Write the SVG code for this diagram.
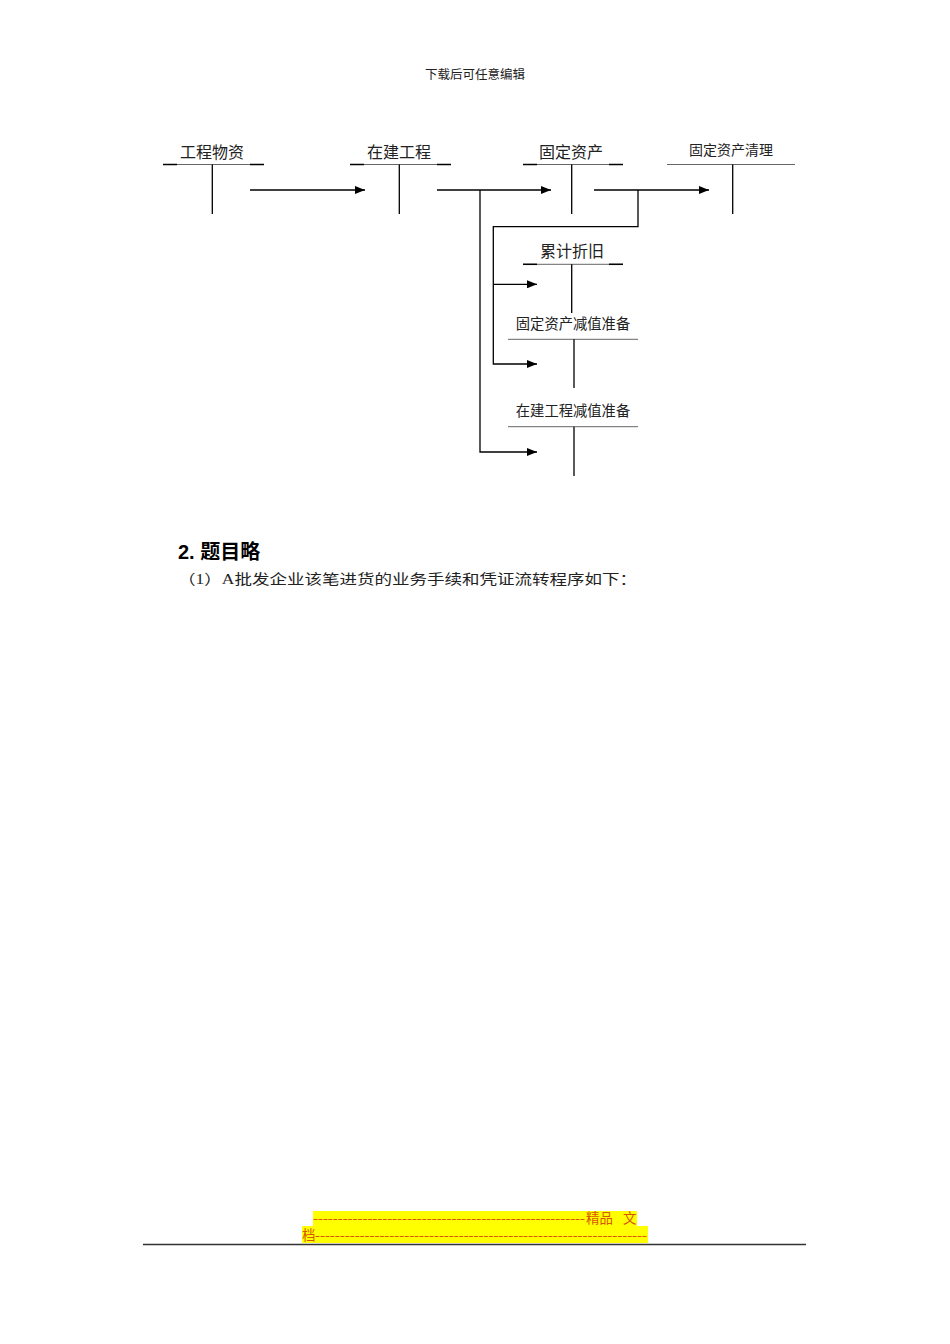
<svg xmlns="http://www.w3.org/2000/svg" width="950" height="1344" viewBox="0 0 950 1344">
<style>
.t{font-family:"Liberation Serif","Noto Sans CJK SC",serif;fill:#222}
.ln{stroke:#000;stroke-width:1.3;fill:none}
.ul{stroke:#666;stroke-width:1}
.ue{stroke:#000;stroke-width:1.5}
.ft{font-family:"Liberation Serif","Noto Sans CJK SC",serif;font-size:13.5px;fill:#d95500}
</style>
<defs>
<marker id="ah" markerWidth="10" markerHeight="8" refX="10" refY="4" orient="auto" markerUnits="userSpaceOnUse">
<path d="M0,0 L10,4 L0,8 Z" fill="#000"/>
</marker>
</defs>
<rect width="950" height="1344" fill="#fff"/>
<text class="t" x="475" y="79" font-size="12.5" text-anchor="middle">下载后可任意编辑</text>

<g id="gcwz">
<text class="t" x="212" y="158" font-size="16" text-anchor="middle">工程物资</text>
<line class="ul" x1="163" y1="164.5" x2="264" y2="164.5"/>
<line class="ue" x1="163" y1="164.5" x2="177" y2="164.5"/>
<line class="ue" x1="250" y1="164.5" x2="264" y2="164.5"/>
<line class="ln" x1="212.3" y1="164.5" x2="212.3" y2="214"/>
</g>
<g id="zjgc">
<text class="t" x="399" y="158" font-size="16" text-anchor="middle">在建工程</text>
<line class="ul" x1="350" y1="164.5" x2="451" y2="164.5"/>
<line class="ue" x1="350" y1="164.5" x2="364" y2="164.5"/>
<line class="ue" x1="437" y1="164.5" x2="451" y2="164.5"/>
<line class="ln" x1="399.3" y1="164.5" x2="399.3" y2="214"/>
</g>
<g id="gdzc">
<text class="t" x="571" y="158" font-size="16" text-anchor="middle">固定资产</text>
<line class="ul" x1="523" y1="164.5" x2="623" y2="164.5"/>
<line class="ue" x1="523" y1="164.5" x2="537" y2="164.5"/>
<line class="ue" x1="609" y1="164.5" x2="623" y2="164.5"/>
<line class="ln" x1="571.7" y1="164.5" x2="571.7" y2="214"/>
</g>
<g id="gdzcql">
<text class="t" x="731" y="155" font-size="14" text-anchor="middle">固定资产清理</text>
<line class="ul" x1="667" y1="164.5" x2="795" y2="164.5"/>
<line class="ln" x1="732.7" y1="164.5" x2="732.7" y2="214"/>
</g>
<g id="ljzj">
<text class="t" x="572" y="257" font-size="16" text-anchor="middle">累计折旧</text>
<line class="ul" x1="523" y1="264.3" x2="623" y2="264.3"/>
<line class="ue" x1="523" y1="264.3" x2="537" y2="264.3"/>
<line class="ue" x1="609" y1="264.3" x2="623" y2="264.3"/>
<line class="ln" x1="571.7" y1="264.3" x2="571.7" y2="313"/>
</g>
<g id="gdzcjz">
<text class="t" x="573" y="329" font-size="14.3" text-anchor="middle">固定资产减值准备</text>
<line class="ul" x1="508" y1="339.3" x2="638" y2="339.3"/>
<line class="ln" x1="574" y1="339.3" x2="574" y2="388"/>
</g>
<g id="zjgcjz">
<text class="t" x="573" y="416" font-size="14.3" text-anchor="middle">在建工程减值准备</text>
<line class="ul" x1="508" y1="426.7" x2="638" y2="426.7"/>
<line class="ln" x1="574" y1="426.7" x2="574" y2="476"/>
</g>

<g id="connectors">
<line class="ln" x1="250" y1="190" x2="365" y2="190" marker-end="url(#ah)"/>
<line class="ln" x1="437" y1="190" x2="551" y2="190" marker-end="url(#ah)"/>
<line class="ln" x1="594" y1="190" x2="709" y2="190" marker-end="url(#ah)"/>
<polyline class="ln" points="480,190 480,452 537,452" marker-end="url(#ah)"/>
<polyline class="ln" points="638,190 638,226.7 493.3,226.7 493.3,364 537,364" marker-end="url(#ah)"/>
<line class="ln" x1="493.3" y1="284.3" x2="537" y2="284.3" marker-end="url(#ah)"/>
</g>

<text x="178" y="559" font-family="Liberation Sans,'Noto Sans CJK SC',sans-serif" font-size="20" font-weight="bold" fill="#000">2. 题目略</text>
<text class="t" x="178" y="584" font-size="14" fill="#222" textLength="459" lengthAdjust="spacingAndGlyphs">（1）A批发企业该笔进货的业务手续和凭证流转程序如下：</text>

<g id="footer">
<rect x="313" y="1211" width="324" height="15" fill="#ffff00"/>
<rect x="302" y="1226" width="346" height="17" fill="#ffff00"/>
<text class="ft" x="313" y="1223" textLength="272" lengthAdjust="spacingAndGlyphs">-------------------------------------------------------</text>
<text class="ft" x="586" y="1223">精品</text>
<text class="ft" x="623" y="1223">文</text>
<text class="ft" x="302" y="1240">档</text>
<text class="ft" x="315" y="1240" textLength="332" lengthAdjust="spacingAndGlyphs">-------------------------------------------------------------------</text>
<line x1="143" y1="1244.5" x2="806" y2="1244.5" stroke="#333" stroke-width="1.5"/>
</g>
</svg>
